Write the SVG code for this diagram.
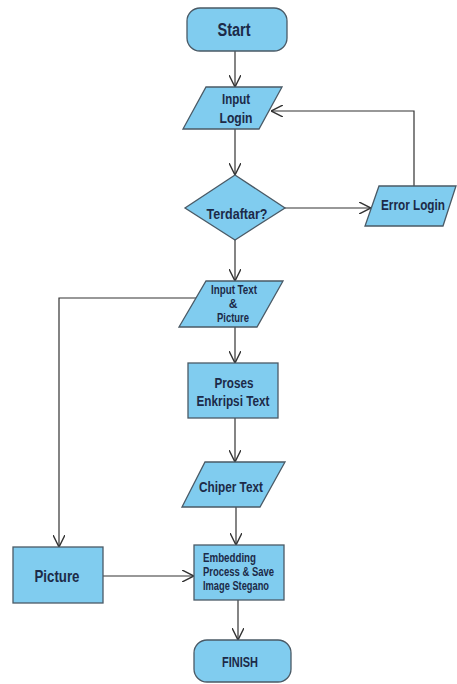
<svg xmlns="http://www.w3.org/2000/svg" width="457" height="684" viewBox="0 0 457 684">
<defs>
<marker id="arr" markerWidth="12" markerHeight="12" refX="10" refY="5" orient="auto" markerUnits="userSpaceOnUse" viewBox="0 0 10 10">
<path d="M0,0 L10,5 L0,10" fill="none" stroke="#333" stroke-width="1.2"/>
</marker>
<style>
.s{fill:#80ccef;stroke:#4a5a66;stroke-width:1.3}
.t{font-family:"Liberation Sans",Arial,sans-serif;font-weight:bold;fill:#1c2a48;text-anchor:middle}
.l{text-anchor:start}
.c{fill:none;stroke:#333;stroke-width:1.2;marker-end:url(#arr)}
</style>
</defs>
<rect width="457" height="684" fill="#fff"/>
<g id="connectors">
<path class="c" d="M235,51 L235,87"/>
<path class="c" d="M235,129 L235,175"/>
<path class="c" d="M285,208 L371,208"/>
<path class="c" d="M414,186 L414,111 L271,111"/>
<path class="c" d="M235,240 L235,281"/>
<path class="c" d="M197,298 L59,298 L59,547"/>
<path class="c" d="M235,327 L235,363"/>
<path class="c" d="M235,418 L235,462"/>
<path class="c" d="M236,507 L236,545"/>
<path class="c" d="M103,576 L194,576"/>
<path class="c" d="M238,600 L238,640"/>
</g>
<g id="start">
<rect class="s" x="187" y="8" width="100" height="43" rx="13"/>
<text class="t" x="234" y="36" font-size="18" textLength="33" lengthAdjust="spacingAndGlyphs">Start</text>
</g>
<g id="input-login">
<polygon class="s" points="206,87 282,87 259,129 183,129"/>
<text class="t" x="236" y="104" font-size="15" textLength="28" lengthAdjust="spacingAndGlyphs">Input</text>
<text class="t" x="236" y="123" font-size="15" textLength="33" lengthAdjust="spacingAndGlyphs">Login</text>
</g>
<g id="terdaftar">
<polygon class="s" points="235,175 285,208 235,240 185,208"/>
<text class="t" x="237" y="219" font-size="15" textLength="61" lengthAdjust="spacingAndGlyphs">Terdaftar?</text>
</g>
<g id="error-login">
<polygon class="s" points="379,186 456,186 443,226 365,226"/>
<text class="t" x="413" y="210" font-size="15.5" textLength="64" lengthAdjust="spacingAndGlyphs">Error Login</text>
</g>
<g id="input-text">
<polygon class="s" points="206,281 283,281 257,327 179,327"/>
<text class="t" x="234" y="294" font-size="12" textLength="46" lengthAdjust="spacingAndGlyphs">Input Text</text>
<text class="t" x="233" y="308" font-size="12">&amp;</text>
<text class="t" x="233" y="322" font-size="12" textLength="32" lengthAdjust="spacingAndGlyphs">Picture</text>
</g>
<g id="proses">
<rect class="s" x="188" y="363" width="90" height="55"/>
<text class="t" x="234" y="388" font-size="14" textLength="39" lengthAdjust="spacingAndGlyphs">Proses</text>
<text class="t" x="233" y="406" font-size="14" textLength="73" lengthAdjust="spacingAndGlyphs">Enkripsi Text</text>
</g>
<g id="chiper">
<polygon class="s" points="205,462 285,462 260,507 182,507"/>
<text class="t" x="231" y="492" font-size="14.5" textLength="64" lengthAdjust="spacingAndGlyphs">Chiper Text</text>
</g>
<g id="picture">
<rect class="s" x="13" y="547" width="90" height="56"/>
<text class="t" x="57" y="582" font-size="17" textLength="45" lengthAdjust="spacingAndGlyphs">Picture</text>
</g>
<g id="embedding">
<rect class="s" x="194" y="545" width="90" height="55"/>
<text class="t l" x="203" y="562" font-size="12.5" textLength="53" lengthAdjust="spacingAndGlyphs">Embedding</text>
<text class="t l" x="203" y="576" font-size="12.5" textLength="71" lengthAdjust="spacingAndGlyphs">Process &amp; Save</text>
<text class="t l" x="203" y="590" font-size="12.5" textLength="66" lengthAdjust="spacingAndGlyphs">Image Stegano</text>
</g>
<g id="finish">
<rect class="s" x="194" y="640" width="97" height="42" rx="13"/>
<text class="t" x="240" y="667" font-size="15.5" textLength="36" lengthAdjust="spacingAndGlyphs">FINISH</text>
</g>
</svg>
